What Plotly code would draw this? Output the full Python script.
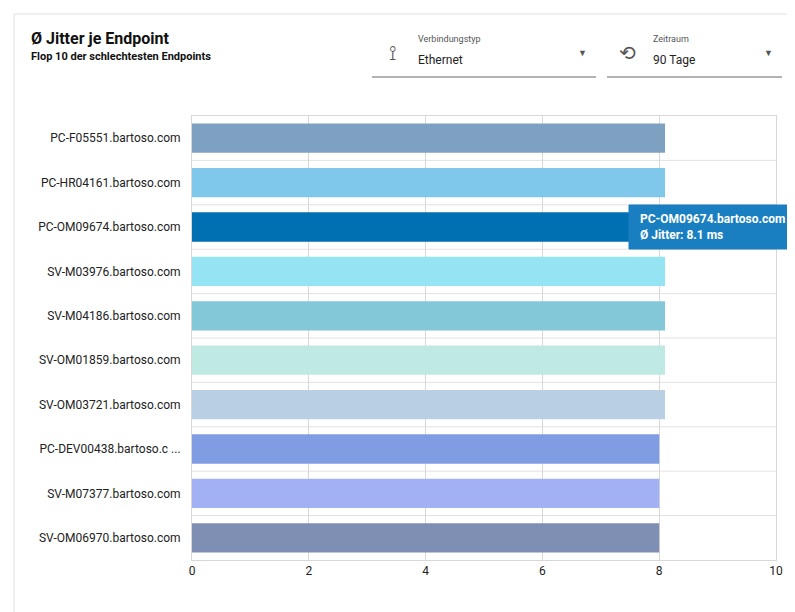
import plotly.graph_objects as go

endpoints = ["PC-F05551.bartoso.com","PC-HR04161.bartoso.com","PC-OM09674.bartoso.com",
             "SV-M03976.bartoso.com","SV-M04186.bartoso.com","SV-OM01859.bartoso.com",
             "SV-OM03721.bartoso.com","PC-DEV00438.bartoso.c ...","SV-M07377.bartoso.com",
             "SV-OM06970.bartoso.com"]
jitter = [8.1, 8.1, 8.1, 8.1, 8.1, 8.1, 8.1, 8.0, 8.0, 8.0]
colors = ["#7fa1c1","#7fc8ec","#0070b2","#94e4f4","#82c8d8","#bfeae4","#b8cfe4","#809de4","#a2b0f4","#7f8fb4"]
xticks = [0, 2, 4, 6, 8, 10]

fig = go.Figure(go.Bar(x=jitter, y=endpoints, orientation="h", marker_color=colors,
                       marker_line_width=0, width=0.66, hoverinfo="skip"))
W, H = 795, 612
L, R, T, B = 184, 768, 108, 552
fig.update_layout(
    width=W, height=H, paper_bgcolor="white", plot_bgcolor="white",
    margin=dict(l=L, r=W - R, t=T, b=H - B, autoexpand=False),
    font=dict(family="Roboto", size=12, color="#222"),
    showlegend=False,
    xaxis=dict(range=[0, 10], tickvals=xticks, showgrid=True, gridcolor="#d8d8d8",
               zeroline=False, showline=True, linecolor="#d8d8d8", mirror=True,
               ticks="", tickfont=dict(size=12, color="#222"), automargin=False),
    yaxis=dict(autorange="reversed", showgrid=False, ticks="", showline=True,
               linecolor="#d8d8d8", mirror=True, tickfont=dict(size=12, color="#222"),
               ticklabelstandoff=8, automargin=False),
)
for i in range(len(endpoints) - 1):
    fig.add_shape(type="line", xref="paper", yref="y", x0=0, x1=1, y0=i + 0.5, y1=i + 0.5,
                  line=dict(color="#e2e2e2", width=1), layer="below")

def px(x): return (x - L) / (R - L)
def py(y): return (B - y) / (B - T)

fig.add_shape(type="rect", xref="paper", yref="paper", x0=px(6), x1=px(789), y0=py(606), y1=py(6),
              line=dict(color="#e0e0e0", width=1))
fig.add_annotation(xref="paper", yref="paper", x=px(21), y=py(30), xanchor="left", yanchor="middle",
                   text="<b>Ø Jitter je Endpoint</b>", showarrow=False, font=dict(size=16, color="#111"))
fig.add_annotation(xref="paper", yref="paper", x=px(21), y=py(49), xanchor="left", yanchor="middle",
                   text="<b>Flop 10 der schlechtesten Endpoints</b>", showarrow=False, font=dict(size=11, color="#111"))

for (x0, x1, lab, val, icon) in [(364, 588, "Verbindungstyp", "Ethernet", "⟟"), (599, 774, "Zeitraum", "90 Tage", "⟲")]:
    fig.add_shape(type="line", xref="paper", yref="paper", x0=px(x0), x1=px(x1), y0=py(69), y1=py(69),
                  line=dict(color="#666", width=1))
    fig.add_annotation(xref="paper", yref="paper", x=px(x0 + 44), y=py(31), xanchor="left", yanchor="middle",
                       text=lab, showarrow=False, font=dict(size=9, color="#555"))
    fig.add_annotation(xref="paper", yref="paper", x=px(x0 + 44), y=py(52), xanchor="left", yanchor="middle",
                       text=val, showarrow=False, font=dict(size=12, color="#222"))
    fig.add_annotation(xref="paper", yref="paper", x=px(x0 + 20), y=py(45), xanchor="center", yanchor="middle",
                       text=icon, showarrow=False, font=dict(size=20, color="#555"))
    fig.add_annotation(xref="paper", yref="paper", x=px(x1 - 14), y=py(45), xanchor="center", yanchor="middle",
                       text="▼", showarrow=False, font=dict(size=9, color="#555"))

fig.add_shape(type="rect", xref="paper", yref="paper", x0=px(621), x1=px(788), y0=py(241), y1=py(197),
              fillcolor="#1a7fc0", line=dict(color="#1a7fc0", width=1))
fig.add_annotation(xref="paper", yref="paper", x=px(630), y=py(219), xanchor="left", yanchor="middle",
                   align="left", text="<b>PC-OM09674.bartoso.com</b><br><b>Ø Jitter: 8.1 ms</b>",
                   showarrow=False, font=dict(size=12, color="white"))
fig.write_html("out.html")
